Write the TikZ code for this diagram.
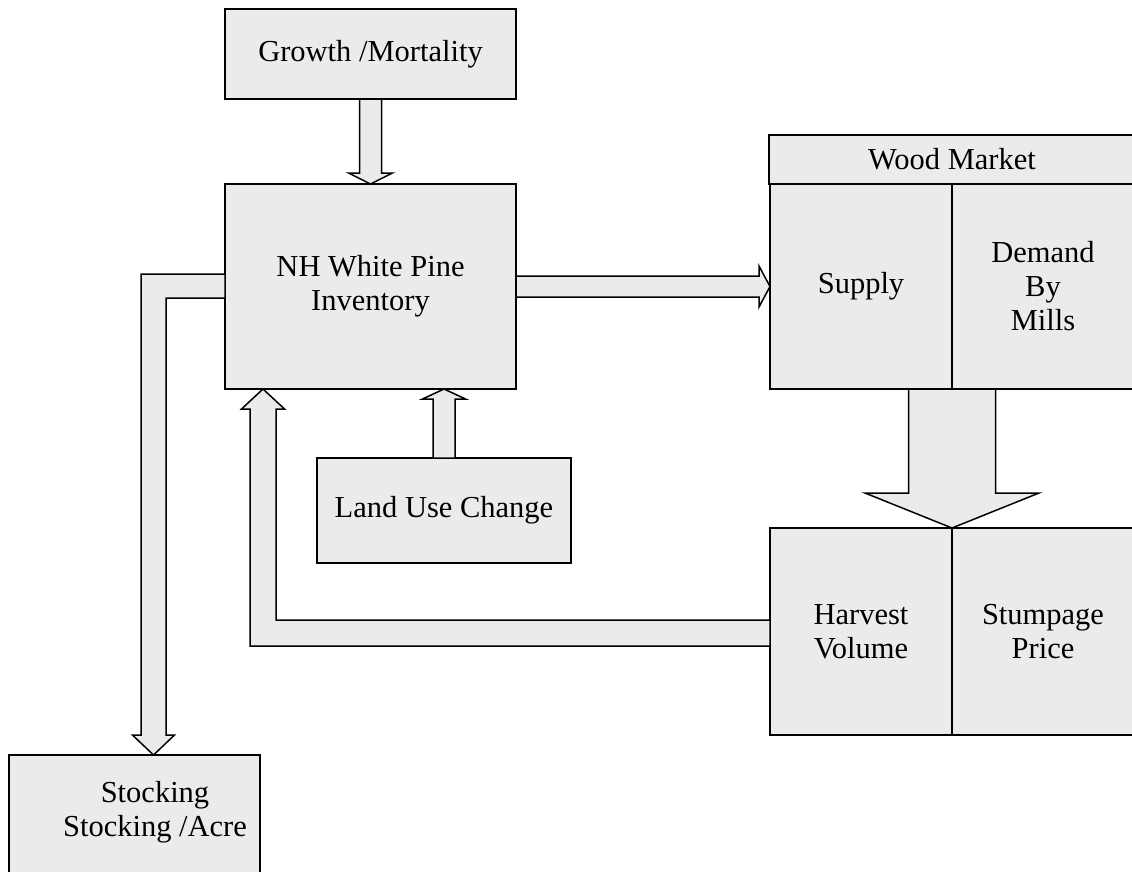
\documentclass[tikz,border=0pt]{standalone}
\usepackage{fontspec}
\setmainfont{Liberation Serif}
\usetikzlibrary{calc}
\definecolor{boxgray}{gray}{0.92}
\tikzset{
  box/.style={draw=black, line width=1.5pt, fill=boxgray, inner sep=0pt, outer sep=0pt, anchor=north west,
    font=\fontsize{30.5}{34}\selectfont, align=center},
  lbl/.style={inner sep=0pt, font=\fontsize{30.5}{34}\selectfont, align=center},
  barrow/.style={draw=black, line width=1.5pt, fill=boxgray, line join=miter},
}
\begin{document}
\begin{tikzpicture}[x=1pt,y=-1pt]
\useasboundingbox (0,0) rectangle (1132,871);
\clip (0,0) rectangle (1132,871);
\fill[white] (0,0) rectangle (1132,871);
% boxes
\node[box, minimum width=291pt, minimum height=90pt] (growth) at (225,9) {Growth /Mortality};
\node[box, minimum width=291pt, minimum height=205pt] (nh) at (225,184) {NH White Pine\\Inventory};
\node[box, minimum width=254pt, minimum height=105pt] (landuse) at (317,458) {Land Use Change};
\node[box, minimum width=366pt, minimum height=49pt] (wm) at (769,135) {Wood Market};
\node[box, minimum width=182pt, minimum height=205pt] (supply) at (770,184) {Supply};
\node[box, minimum width=182pt, minimum height=205pt] (demand) at (952,184) {Demand\\By\\Mills};
\node[box, minimum width=182pt, minimum height=207pt] (harvest) at (770,528) {Harvest\\Volume};
\node[box, minimum width=182pt, minimum height=207pt] (stumpage) at (952,528) {Stumpage\\Price};
\node[box, minimum width=251pt, minimum height=125pt] (stocking) at (9,755) {};
\node[lbl] (stockinglbl) at (155,812) {Stocking\\Stocking /Acre};
\coordinate (hbend) at (263,633);
\coordinate (sbend) at (153.5,286);
% block arrows
\filldraw[barrow] let \p1=(growth.south), \p2=(nh.north) in
  (\x1-11pt,\y1) -- (\x1-11pt,\y2+11pt) -- (\x1-22pt,\y2+11pt) -- (\x1,\y2)
  -- (\x1+22pt,\y2+11pt) -- (\x1+11pt,\y2+11pt) -- (\x1+11pt,\y1) -- cycle;
\filldraw[barrow] let \p1=(landuse.north), \p2=(nh.south) in
  (\x1-11pt,\y1) -- (\x1-11pt,\y2-10pt) -- (\x1-21.5pt,\y2-10pt) -- (\x1,\y2)
  -- (\x1+21.5pt,\y2-10pt) -- (\x1+11pt,\y2-10pt) -- (\x1+11pt,\y1) -- cycle;
\filldraw[barrow] let \p1=(nh.east), \p2=(supply.west) in
  (\x1,\y1+10.5pt) -- (\x2-11pt,\y1+10.5pt) -- (\x2-11pt,\y1+20.5pt) -- (\x2,\y1)
  -- (\x2-11pt,\y1-20.5pt) -- (\x2-11pt,\y1-10.5pt) -- (\x1,\y1-10.5pt) -- cycle;
\filldraw[barrow] let \p1=(supply.south east), \p2=(harvest.north east) in
  (\x1-43.5pt,\y1) -- (\x1-43.5pt,\y2+35pt) -- (\x1-87pt,\y2+35pt) -- (\x1,\y2)
  -- (\x1+87pt,\y2+35pt) -- (\x1+43.5pt,\y2+35pt) -- (\x1+43.5pt,\y1) -- cycle;
\filldraw[barrow] let \p1=(harvest.west), \p2=(hbend), \p3=(nh.south) in
  (\x1,\y2+13pt) -- (\x2+13pt,\y2+13pt) -- (\x2+13pt,\y3-20pt) -- (\x2+21.5pt,\y3-20pt)
  -- (\x2,\y3) -- (\x2-21.5pt,\y3-20pt) -- (\x2-13pt,\y3-20pt) -- (\x2-13pt,\y2-13pt)
  -- (\x1,\y2-13pt) -- cycle;
\filldraw[barrow] let \p1=(nh.west), \p2=(sbend), \p3=(stocking.north) in
  (\x1,\y2+12pt) -- (\x2-12.5pt,\y2+12pt) -- (\x2-12.5pt,\y3+20pt) -- (\x2-21pt,\y3+20pt)
  -- (\x2,\y3) -- (\x2+21pt,\y3+20pt) -- (\x2+12.5pt,\y3+20pt) -- (\x2+12.5pt,\y2-12pt)
  -- (\x1,\y2-12pt) -- cycle;
\end{tikzpicture}
\end{document}
